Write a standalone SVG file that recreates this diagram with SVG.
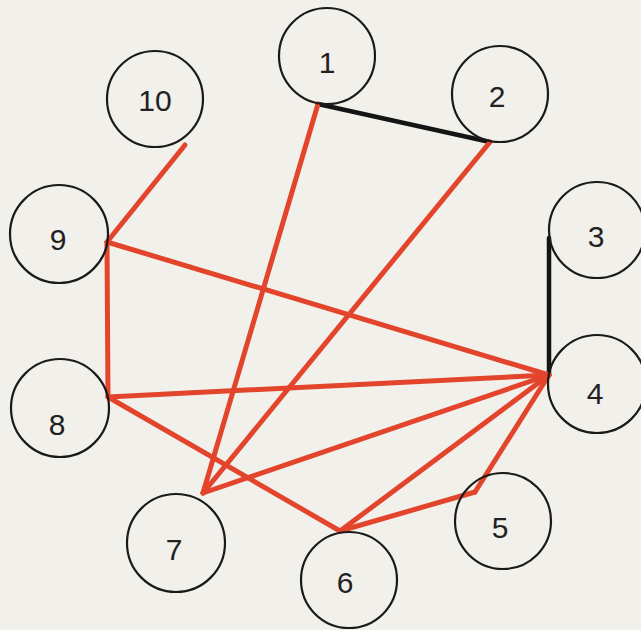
<svg xmlns="http://www.w3.org/2000/svg" width="641" height="630" viewBox="0 0 641 630">
<style>
.n circle{fill:none;stroke:#1a1a1a;stroke-width:2.2}
.n text{font-family:"Liberation Sans",Arial,sans-serif;font-size:30px;fill:#222;text-anchor:middle;dominant-baseline:central}
.r{stroke:#e2452c;stroke-width:5;stroke-linecap:round;fill:none}
.b{stroke:#141414;stroke-width:4.5;stroke-linecap:round;fill:none}
</style>
<rect width="641" height="630" fill="#f2f0ea"/>
<g id="connectors">
<line class="b" x1="318" y1="104" x2="490" y2="142"/>
<line class="b" x1="549" y1="238" x2="549" y2="375"/>
<line class="r" x1="185" y1="145" x2="107" y2="242"/>
<line class="r" x1="107" y1="242" x2="108" y2="397"/>
<line class="r" x1="107" y1="242" x2="549" y2="375"/>
<line class="r" x1="108" y1="397" x2="549" y2="375"/>
<line class="r" x1="108" y1="397" x2="340" y2="531"/>
<line class="r" x1="318" y1="104" x2="203" y2="493"/>
<line class="r" x1="490" y1="142" x2="203" y2="493"/>
<line class="r" x1="203" y1="493" x2="549" y2="375"/>
<line class="r" x1="340" y1="531" x2="549" y2="375"/>
<line class="r" x1="340" y1="531" x2="475" y2="492"/>
<line class="r" x1="475" y1="492" x2="549" y2="375"/>
</g>
<g id="node1" class="n"><circle cx="327" cy="56" r="48"/><text x="327" y="62">1</text></g>
<g id="node2" class="n"><circle cx="500" cy="94" r="48"/><text x="497" y="96">2</text></g>
<g id="node3" class="n"><circle cx="597" cy="230" r="48"/><text x="596" y="236">3</text></g>
<g id="node4" class="n"><circle cx="597" cy="384" r="49"/><text x="595" y="393">4</text></g>
<g id="node5" class="n"><circle cx="503" cy="521" r="48"/><text x="500" y="527">5</text></g>
<g id="node6" class="n"><circle cx="349" cy="580" r="48"/><text x="345" y="582">6</text></g>
<g id="node7" class="n"><circle cx="176" cy="543" r="49"/><text x="174" y="549">7</text></g>
<g id="node8" class="n"><circle cx="60" cy="408" r="49"/><text x="57" y="424">8</text></g>
<g id="node9" class="n"><circle cx="59" cy="234" r="49"/><text x="58" y="239">9</text></g>
<g id="node10" class="n"><circle cx="155" cy="99" r="48"/><text x="155" y="100">10</text></g>
</svg>
